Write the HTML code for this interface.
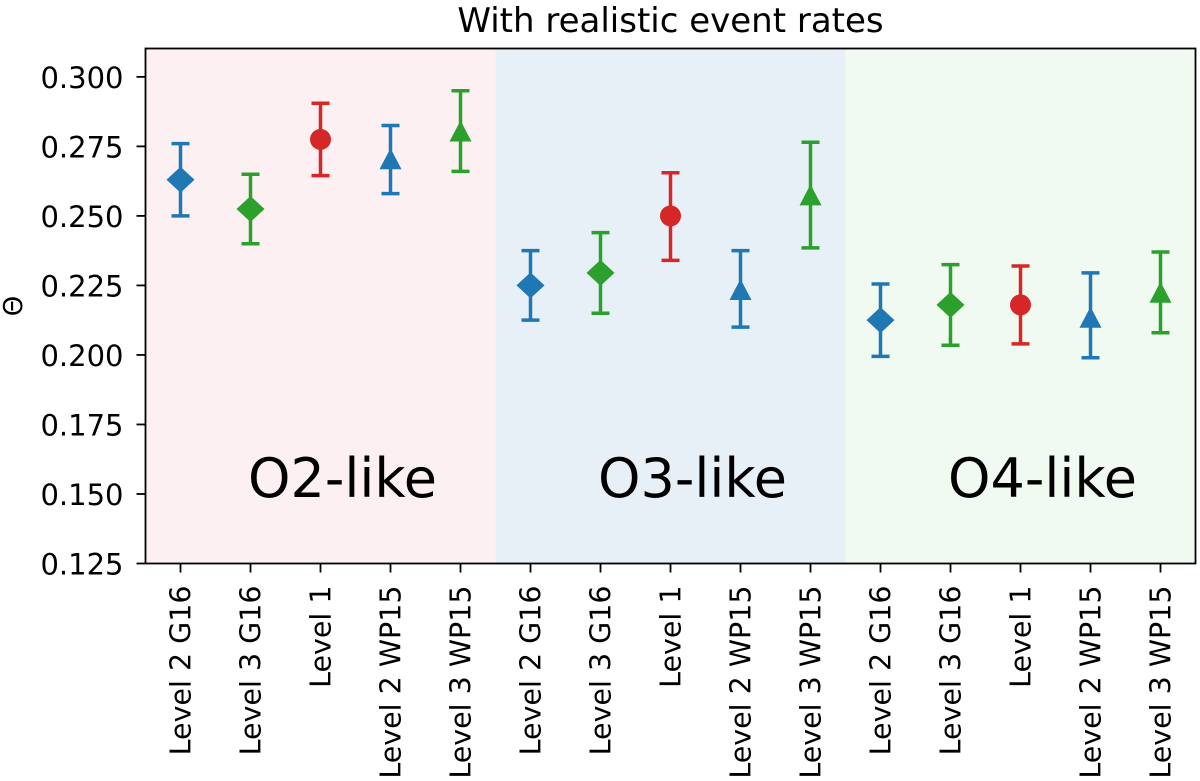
<!DOCTYPE html>
<html><head><meta charset="utf-8"><style>
html,body{margin:0;padding:0;background:#fff;}
svg{display:block;font-family:"DejaVu Sans","Liberation Sans",sans-serif;}
</style></head><body>
<svg id="chart" width="1200" height="781" viewBox="0 0 1200 781"></svg>
<script>
const categories = ["Level 2 G16","Level 3 G16","Level 1","Level 2 WP15","Level 3 WP15","Level 2 G16","Level 3 G16","Level 1","Level 2 WP15","Level 3 WP15","Level 2 G16","Level 3 G16","Level 1","Level 2 WP15","Level 3 WP15"];
const values = [0.263,0.2525,0.2775,0.270,0.280, 0.225,0.2295,0.250,0.223,0.257, 0.2125,0.218,0.218,0.213,0.222];
const lowers = [0.250,0.240,0.2645,0.258,0.266, 0.2125,0.215,0.234,0.210,0.2385, 0.1995,0.2035,0.204,0.199,0.208];
const uppers = [0.276,0.265,0.2905,0.2825,0.295, 0.2375,0.244,0.2655,0.2375,0.2765, 0.2255,0.2325,0.232,0.2295,0.237];
const markers = ["diamond","diamond","circle","triangle","triangle","diamond","diamond","circle","triangle","triangle","diamond","diamond","circle","triangle","triangle"];
const seriesColors = ["#1f77b4","#2ca02c","#d62728","#1f77b4","#2ca02c","#1f77b4","#2ca02c","#d62728","#1f77b4","#2ca02c","#1f77b4","#2ca02c","#d62728","#1f77b4","#2ca02c"];
const regions = ["O2-like","O3-like","O4-like"];
const regionColors = ["#fdf0f2","#e8f0f7","#f1faf1"];
const yTicks = [0.125,0.150,0.175,0.200,0.225,0.250,0.275,0.300];
const yTickLabels = ["0.125","0.150","0.175","0.200","0.225","0.250","0.275","0.300"];

const L=145.5,R=1195.5,T=48.5,B=563.5;
const yMin=0.125,yMax=0.3102;
const xs=i=>L+(i+0.5)*(R-L)/categories.length;
const ys=v=>B-(v-yMin)/(yMax-yMin)*(B-T);
const NS="http://www.w3.org/2000/svg";
const svg=document.getElementById('chart');
function mk(tag,attrs,parent){const e=document.createElementNS(NS,tag);for(const k in attrs)e.setAttribute(k,attrs[k]);(parent||svg).appendChild(e);return e;}

regions.forEach((r,k)=>{
  const x0=xs(k*5-0.5),x1=xs(k*5+4.5);
  const rect=mk('rect',{x:x0,y:T,width:x1-x0,height:B-T,fill:regionColors[k]});
  
  
  const t=mk('text',{x:(x0+x1)/2+22,y:497,'text-anchor':'middle','font-size':54,fill:'#000'});
  t.textContent=r;
  
  
});

yTicks.forEach((v,i)=>{
  const y=ys(v);
  const tk=mk('line',{x1:L-9,x2:L,y1:y,y2:y,stroke:'#000','stroke-width':1.8});
  
  
  const t=mk('text',{x:L-22,y:y+11,'text-anchor':'end','font-size':29,fill:'#000'});
  t.textContent=yTickLabels[i];
  
  
});

categories.forEach((c,i)=>{
  const x=xs(i);
  const tk=mk('line',{x1:x,x2:x,y1:B,y2:B+9,stroke:'#000','stroke-width':1.8});
  
  
  const t=mk('text',{x:0,y:0,'text-anchor':'end','font-size':28.5,fill:'#000',transform:`translate(${x+10},${B+22}) rotate(-90)`});
  t.textContent=c;
  
  
});

categories.forEach((c,i)=>{
  const x=xs(i),col=seriesColors[i];
  const g=mk('g',{});
  
  
  const yl=ys(lowers[i]),yu=ys(uppers[i]),y=ys(values[i]);
  mk('line',{x1:x,x2:x,y1:yl,y2:yu,stroke:col,'stroke-width':3.5},g);
  mk('line',{x1:x-9,x2:x+9,y1:yl,y2:yl,stroke:col,'stroke-width':3.5},g);
  mk('line',{x1:x-9,x2:x+9,y1:yu,y2:yu,stroke:col,'stroke-width':3.5},g);
  if(markers[i]==='diamond') mk('polygon',{points:`${x},${y-13} ${x+14},${y} ${x},${y+13} ${x-14},${y}`,fill:col},g);
  else if(markers[i]==='circle') mk('circle',{cx:x,cy:y,r:10.5,fill:col},g);
  else mk('polygon',{points:`${x},${y-12} ${x+11},${y+9} ${x-11},${y+9}`,fill:col},g);
});

const frame=mk('rect',{x:L,y:T,width:R-L,height:B-T,fill:'none',stroke:'#000','stroke-width':1.8});



const title=mk('text',{x:(L+R)/2,y:32,'text-anchor':'middle','font-size':34,fill:'#000'});
title.textContent='With realistic event rates';



const yl=mk('text',{x:0,y:0,'text-anchor':'middle','font-size':26,fill:'#000',transform:`translate(22,${(T+B)/2}) rotate(-90)`});
yl.textContent='Θ';


</script>
</body></html>
